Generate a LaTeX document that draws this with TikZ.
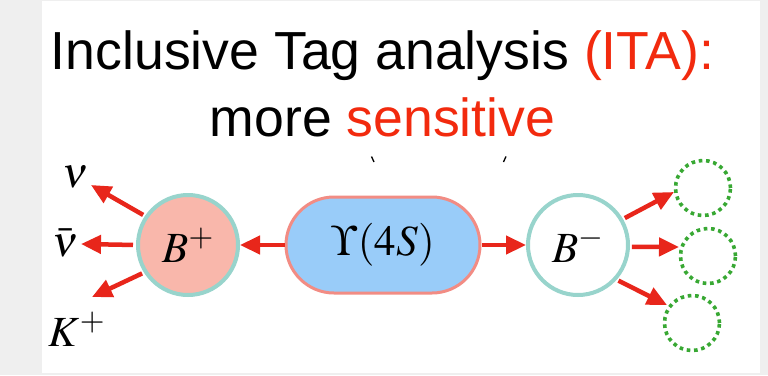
\documentclass[tikz,border=0pt]{standalone}
\usepackage{mathptmx}
\usepackage{fontspec}
\setmainfont{Liberation Sans}
\usetikzlibrary{arrows.meta}

\definecolor{titlered}{HTML}{F22A0E}
\definecolor{arrowred}{HTML}{E8261B}
\definecolor{bplusfill}{HTML}{F9B7AB}
\definecolor{ringteal}{HTML}{98D4CC}
\definecolor{pillblue}{HTML}{99CCF9}
\definecolor{pilledge}{HTML}{F28C84}
\definecolor{dotgreen}{HTML}{38A833}
\definecolor{backgray}{HTML}{EFEFEF}

\tikzset{
  x=1pt, y=-1pt,
  mesonball/.style={circle, draw=ringteal, line width=4pt, minimum size=100pt,
    inner sep=0pt, font=\fontsize{43}{50}\selectfont},
  pill/.style={rectangle, rounded corners=48pt, draw=pilledge, fill=pillblue,
    line width=3pt, minimum width=194pt, minimum height=96pt, inner sep=0pt,
    font=\fontsize{43}{50}\selectfont},
  slot/.style={circle, draw=dotgreen, line width=3.6pt, dash pattern=on 3.6pt off 3.7pt,
    minimum size=55pt, inner sep=0pt},
  decay/.style={draw=arrowred, line width=4.5pt,
    -{Triangle[length=20pt,width=18pt]}},
  particle/.style={inner sep=0pt, font=\fontsize{43}{50}\selectfont},
  headline/.style={inner sep=0pt, anchor=base, font=\fontsize{53.6}{60}\selectfont},
}

\begin{document}
\begin{tikzpicture}
  % canvas and white panel
  \fill[backgray] (0,0) rectangle (768,375);
  \fill[white] (42,1) rectangle (760,373);
  \useasboundingbox (0,0) rectangle (768,375);

  % heading
  \node[headline] (title1) at (382.5,69)
    {Inclusive Tag analysis \textcolor{titlered}{(ITA):}};
  \node[headline] (title2) at (382.5,136)
    {more \textcolor{titlered}{sensitive}};

  % small marks below the heading
  \draw[line width=1.3pt] (371.5,156.5) -- (374,162);
  \draw[line width=1.3pt] (506,156.5) -- (503.5,162);

  % mesons
  \node[pill] (ups) at (383,245) {$\Upsilon(4S)$};
  \node[mesonball, fill=bplusfill] (bp) at (188,245) {$B^+$};
  \node[mesonball, fill=white] (bm) at (578,245) {$B^-$};

  % B+ decay products
  \node[particle] (nu) at (76,177) {$\nu$};
  \node[particle] (nubar) at (66,243) {$\bar\nu$};
  \node[particle] (kplus) at (77,329) {$K^+$};

  % unknown B- decay products
  \node[slot] (s1) at (703,188) {};
  \node[slot] (s2) at (708,256) {};
  \node[slot] (s3) at (692,323) {};

  % arrow tips
  \coordinate (tnu) at (91,185);
  \coordinate (tnubar) at (81,244);
  \coordinate (tk) at (92,297);
  \coordinate (ts1) at (674,192);
  \coordinate (ts2) at (679,247);
  \coordinate (ts3) at (667,305);

  % arrows
  \draw[decay] (ups.west) -- (bp.east);
  \draw[decay] (ups.east) -- (bm.west);
  \draw[decay, shorten <=2pt] (bp.146) -- (tnu);
  \draw[decay, shorten <=3pt] (bp.180) -- (tnubar);
  \draw[decay, shorten <=2pt] (bp.212) -- (tk);
  \draw[decay, shorten <=2pt] (bm.30) -- (ts1);
  \draw[decay, shorten <=2pt] (bm.358) -- (ts2);
  \draw[decay, shorten <=2pt] (bm.318) -- (ts3);
\end{tikzpicture}
\end{document}
